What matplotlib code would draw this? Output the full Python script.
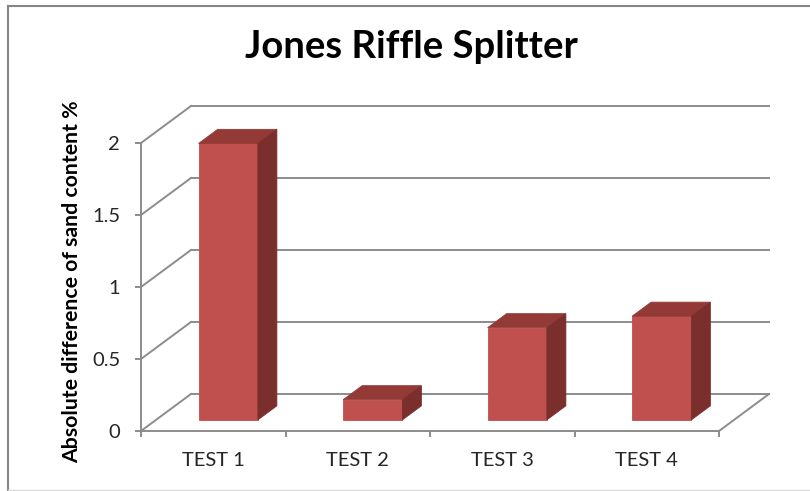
import matplotlib.pyplot as plt
from matplotlib.lines import Line2D

plt.rcParams['font.family'] = ['Lato', 'DejaVu Sans']

tests = ['TEST 1', 'TEST 2', 'TEST 3', 'TEST 4']
diff = [1.92, 0.14, 0.64, 0.72]
yticks = [0, 0.5, 1, 1.5, 2]
ytick_labels = ['0', '0.5', '1', '1.5', '2']

# oblique depth offset for one full unit of depth, in data units
DX = 0.346
DV = 0.257
grid_col = '#8c8c8c'
front_col = '#c0504d'
top_col = '#933a37'
side_col = '#7b2f2d'


def proj(x, v, d):
    return x + d * DX, v + d * DV


def face(ax, pts, color):
    xs, ys = zip(*[proj(*p) for p in pts])
    ax.fill(xs, ys, color=color, lw=0.6, ec=color, clip_on=False, zorder=3)


fig = plt.figure(figsize=(8.1, 4.91), dpi=100)
ax = fig.add_axes([141 / 810, 60 / 491, 578 / 810, 288 / 491])
ax.set_xlim(0, len(tests))
ax.set_ylim(0, 2)
ax.patch.set_alpha(0)

# back wall gridlines and left wall diagonals
for v in yticks:
    x0, y0 = proj(0, v, 1)
    x1, y1 = proj(len(tests), v, 1)
    ax.plot([x0, x1], [y0, y1], color=grid_col, lw=1.4, clip_on=False, zorder=1)
    xa, ya = proj(0, v, 0)
    ax.plot([xa, x0], [ya, y0], color=grid_col, lw=1.4, clip_on=False, zorder=1)
# right edge of the floor
xa, ya = proj(len(tests), 0, 0)
xb, yb = proj(len(tests), 0, 1)
ax.plot([xa, xb], [ya, yb], color=grid_col, lw=1.4, clip_on=False, zorder=1)

# 3D bars
w = 0.41
d0, d1 = 0.30, 0.68
for i, val in enumerate(diff):
    xl = i + 0.5 - w / 2
    xr = i + 0.5 + w / 2
    face(ax, [(xl, 0, d0), (xr, 0, d0), (xr, val, d0), (xl, val, d0)], front_col)
    face(ax, [(xl, val, d0), (xr, val, d0), (xr, val, d1), (xl, val, d1)], top_col)
    face(ax, [(xr, 0, d0), (xr, 0, d1), (xr, val, d1), (xr, val, d0)], side_col)

for s in ['top', 'right']:
    ax.spines[s].set_visible(False)
for s in ['left', 'bottom']:
    ax.spines[s].set_color(grid_col)
    ax.spines[s].set_linewidth(1.4)

ax.set_yticks(yticks)
ax.set_yticklabels(ytick_labels)
ax.set_xticks(range(len(tests) + 1))
ax.set_xticklabels([])
ax.set_xticks([i + 0.5 for i in range(len(tests))], minor=True)
ax.set_xticklabels(tests, minor=True)
ax.tick_params(axis='y', length=4.5, width=1.4, color=grid_col, pad=10.5,
               labelsize=14.5, labelcolor='#262626')
ax.tick_params(axis='x', which='major', length=4.5, width=1.4, color=grid_col)
ax.tick_params(axis='x', which='minor', length=0, pad=15,
               labelsize=14.5, labelcolor='#262626')

fig.text(411 / 810, 1 - 47 / 491, 'Jones Riffle Splitter', ha='center',
         va='center', fontsize=27.5, fontweight='bold')
fig.text(72 / 810, 1 - 282 / 491, 'Absolute difference of sand content %',
         ha='center', va='center', rotation=90, fontsize=15.3,
         fontweight='bold')

# chart area border
bx, by0, by1 = 7.5 / 810, 1 - 5.5 / 491, 1 - 489.5 / 491
fig.add_artist(Line2D([bx, 1], [by0, by0], color='#868686', lw=1.5))
fig.add_artist(Line2D([bx, bx], [by0, by1], color='#868686', lw=1.5))
fig.add_artist(Line2D([bx, 1], [by1, by1], color='#d9d9d9', lw=1.0))

fig.savefig('out.png', dpi=100)
